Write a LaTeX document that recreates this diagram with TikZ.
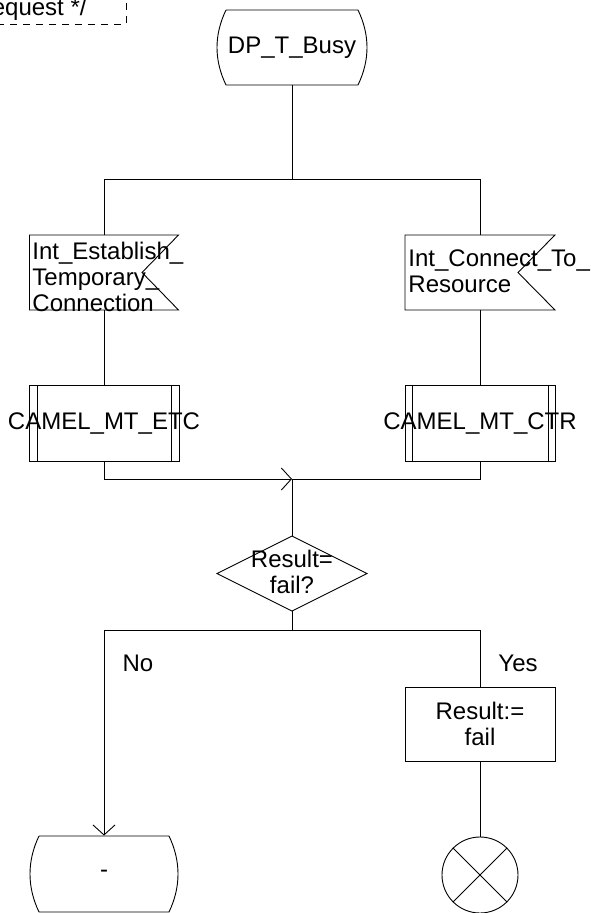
\documentclass[tikz,border=0pt]{standalone}
\usepackage{fontspec}
\setmainfont{Liberation Sans}
\usetikzlibrary{arrows.meta}
\begin{document}
\begin{tikzpicture}[x=1pt,y=-1pt,line width=0.9pt,
  every node/.style={font=\fontsize{24}{26}\selectfont,inner sep=0pt},
  box/.style={rectangle,minimum width=150pt,minimum height=#1},
  flowtip/.style={-{Straight Barb[length=10pt,width=22pt]}},
  lbl/.style={font=\fontsize{24}{26}\selectfont}]
\useasboundingbox (0,0) rectangle (591,913);

% comment
\node[anchor=base east] (comment) at (87,15) {equest */};
\draw[dashed,dash pattern=on 7pt off 6pt] (-3,24) -- (126,24) -- (126,-4);

% start state
\node[box=75pt,minimum width=152pt] (start) at (292,47.5) {DP\_T\_Busy};
\draw (226,10) -- (358,10) .. controls (370,35) and (370,60) .. (358,85)
      -- (226,85) .. controls (214,60) and (214,35) .. (226,10);

% input signals
\node[box=75pt,minimum width=149pt] (sig1) at (104,272.5) {};
\draw (29.5,235) -- (178.5,235) -- (142,272.5) -- (178.5,310) -- (29.5,310) -- cycle;
\node[anchor=west,align=left] (sig1t) at (32,277) {Int\_Establish\_\\Temporary\_\\Connection};

\node[box=75pt,minimum width=150pt] (sig2) at (480,272.5) {};
\draw (405,235) -- (555,235) -- (518,272.5) -- (555,310) -- (405,310) -- cycle;
\node[anchor=west,align=left] (sig2t) at (408,271) {Int\_Connect\_To\_\\Resource};

% procedures
\node[box=76pt,draw] (proc1) at (104,423) {};
\draw (37,385) -- (37,461) (171,385) -- (171,461);
\node (proc1t) at (104,423) {CAMEL\_MT\_ETC};

\node[box=76pt,draw] (proc2) at (480,423) {};
\draw (412,385) -- (412,461) (548,385) -- (548,461);
\node (proc2t) at (480,423) {CAMEL\_MT\_CTR};

% decision
\node[box=75pt] (dec) at (292,573.5) {};
\draw (217,573.5) -- (292,536) -- (367,573.5) -- (292,611) -- cycle;
\node[align=center] (dect) at (292,572) {Result=\\fail?};

% task
\node[box=74pt,draw,align=center] (task) at (480,724) {Result:=\\fail};

% stop
\node[circle,draw,minimum size=76pt] (stop) at (480,875) {};
\draw (stop.north west) -- (stop.south east) (stop.north east) -- (stop.south west);

% end state
\node[box=76pt,minimum width=151pt] (endst) at (104,874) {-};
\draw (39,836) -- (169,836) .. controls (181,861) and (181,887) .. (169,912)
      -- (39,912) .. controls (27,887) and (27,861) .. (39,836);

% connectors
\coordinate (split1) at (292,179);
\coordinate (join) at (292,479);
\coordinate (split2) at (292,630);
\draw (start.south) -- (split1);
\draw (split1) -| (sig1.north);
\draw (split1) -| (sig2.north);
\draw (sig1.south) -- (proc1.north);
\draw (sig2.south) -- (proc2.north);
\draw[flowtip] (proc1.south) |- (join);
\draw (proc2.south) |- (join);
\draw (join) -- (dec.north);
\draw (dec.south) -- (split2);
\draw[flowtip] (split2) -| (endst.north);
\draw (split2) -| (task.north);
\draw (task.south) -- (stop.north);

\node[lbl] (no) at (138,663) {No};
\node[lbl] (yes) at (518,663) {Yes};
\end{tikzpicture}
\end{document}
